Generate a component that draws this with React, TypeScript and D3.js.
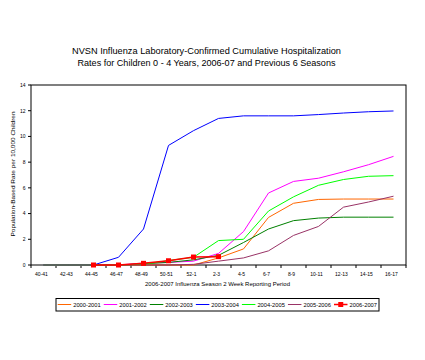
import React from "react";
import * as d3 from "d3";

const categories = ["40-41","42-43","44-45","46-47","48-49","50-51","52-1","2-3","4-5","6-7","8-9","10-11","12-13","14-15","16-17"];
const seriesNames = ["2000-2001","2001-2002","2002-2003","2003-2004","2004-2005","2005-2006","2006-2007"];
const seriesColors = ["#FF6600","#FF00FF","#008000","#0000FF","#00FF00","#993366","#FF0000"];
const s2000 = [0,0,0,0,0,0,0,0.55,1.25,3.7,4.8,5.1,5.13,5.13,5.13];
const s2001 = [0,0,0,0,0.15,0.2,0.3,0.9,2.6,5.6,6.5,6.75,7.25,7.8,8.45];
const s2002 = [0,0,0,0,0.1,0.2,0.4,0.75,1.75,2.8,3.45,3.65,3.72,3.72,3.72];
const s2003 = [0,0,0,0.6,2.8,9.3,10.45,11.4,11.6,11.6,11.6,11.7,11.82,11.92,11.98];
const s2004 = [0,0,0,0,0.05,0.35,0.6,1.9,2.0,4.2,5.3,6.2,6.65,6.9,6.95];
const s2005 = [0,0,0,0,0,0,0.05,0.3,0.55,1.1,2.3,3.0,4.5,4.9,5.35];
const s2006: (number | null)[] = [null,null,0,0,0.13,0.33,0.62,0.65,null,null,null,null,null,null,null];
const yTicks = [0,2,4,6,8,10,12,14];
const titleLines = ["NVSN Influenza Laboratory-Confirmed Cumulative Hospitalization","Rates for Children 0 - 4 Years, 2006-07 and Previous 6 Seasons"];
const xTitle = "2006-2007 Influenza Season 2 Week Reporting Period";
const yTitle = "Population-Based Rate per 10,000 Children";

const allSeries: (number | null)[][] = [s2000, s2001, s2002, s2003, s2004, s2005, s2006];

export default function App() {
  const W = 425, H = 360;
  const left = 31, right = 406, top = 85, bottom = 265;
  const x = d3.scaleBand<string>().domain(categories).range([left, right]).padding(0);
  const y = d3.scaleLinear().domain([0, 14]).range([bottom, top]);
  const cx = (i: number) => (x(categories[i]) as number) + x.bandwidth() / 2;
  const font = "Liberation Sans, Arial, sans-serif";

  const line = d3.line<number | null>()
    .defined((d) => d !== null)
    .x((_, i) => cx(i))
    .y((d) => y(d as number));

  const legendX0 = 57.7, legendStep = 46.05, legendY = 304.5;

  return (
    <svg width={W} height={H} style={{ position: "absolute", left: 0, top: 0, background: "#fff" }} fontFamily={font}>
      <rect x={0} y={0} width={W} height={H} fill="#fff" />
      {titleLines.map((t, i) => (
        <text key={i} x={206.5} y={53.5 + i * 12.7} textAnchor="middle" fontSize={8.6}
          textLength={i === 0 ? 269 : 258} lengthAdjust="spacingAndGlyphs" fill="#000">{t}</text>
      ))}
      {/* plot border */}
      <rect x={left} y={top} width={right - left} height={bottom - top} fill="none" stroke="#000" strokeWidth={1} />
      {/* y ticks */}
      {yTicks.map((t) => (
        <g key={t}>
          <line x1={left - 3} x2={left} y1={y(t)} y2={y(t)} stroke="#000" />
          <text x={25.5} y={y(t) + 1.8} textAnchor="end" fontSize={5} fill="#000">{t}</text>
        </g>
      ))}
      {/* x ticks */}
      {categories.map((c, i) => (
        <g key={c}>
          <line x1={(x(c) as number)} x2={(x(c) as number)} y1={bottom} y2={bottom + 3} stroke="#000" />
          <text x={cx(i) - 2} y={276} textAnchor="middle" fontSize={5} fill="#000">{c}</text>
        </g>
      ))}
      <line x1={right} x2={right} y1={bottom} y2={bottom + 3} stroke="#000" />
      <text x={217.5} y={286} textAnchor="middle" fontSize={5.5} textLength={145} lengthAdjust="spacingAndGlyphs" fill="#000">{xTitle}</text>
      <text transform={`translate(15,174) rotate(-90)`} textAnchor="middle" fontSize={5.5} textLength={125} lengthAdjust="spacingAndGlyphs" fill="#000">{yTitle}</text>
      {/* series */}
      {allSeries.map((s, k) => (
        <path key={k} d={line(s) || ""} fill="none" stroke={seriesColors[k]} strokeWidth={k === 6 ? 1.5 : 1} />
      ))}
      {s2006.map((v, i) => v === null ? null : (
        <rect key={i} x={cx(i) - 2.5} y={y(v) - 2.5} width={5} height={5} fill="#FF0000" />
      ))}
      {/* legend */}
      <rect x={56} y={298.5} width={323} height={12.5} fill="#fff" stroke="#000" strokeWidth={1} />
      {seriesNames.map((n, k) => {
        const lx = legendX0 + k * legendStep;
        return (
          <g key={n}>
            <line x1={lx} x2={lx + 13.5} y1={legendY} y2={legendY} stroke={seriesColors[k]} strokeWidth={k === 6 ? 1.5 : 1} />
            {k === 6 && <rect x={lx + 6.75 - 2.5} y={legendY - 2.5} width={5} height={5} fill="#FF0000" />}
            <text x={lx + 15.5} y={legendY + 2} fontSize={5.5} textLength={27.5} lengthAdjust="spacingAndGlyphs" fill="#000">{n}</text>
          </g>
        );
      })}
    </svg>
  );
}
